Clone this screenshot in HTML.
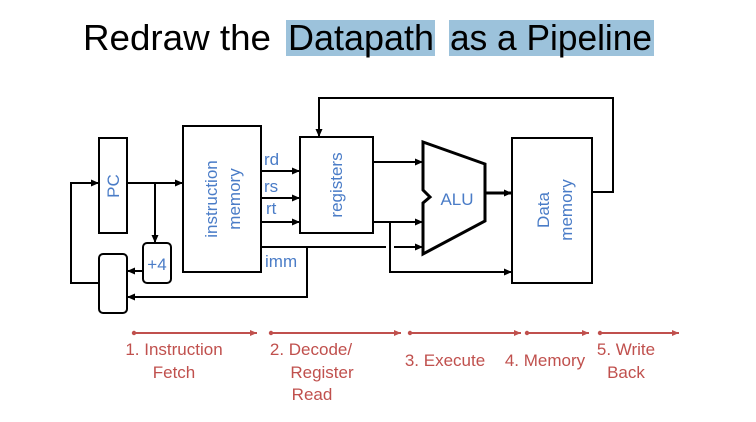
<!DOCTYPE html>
<html><head><meta charset="utf-8"><style>
html,body{margin:0;padding:0;background:#fff;}
svg{display:block;font-family:"Liberation Sans",sans-serif;}
</style></head><body>
<svg width="756" height="422" viewBox="0 0 756 422" xmlns="http://www.w3.org/2000/svg">
<defs>
<marker id="a" markerWidth="8" markerHeight="8" refX="7" refY="4" orient="auto" markerUnits="userSpaceOnUse"><path d="M0,0.5 L8,4 L0,7.5z" fill="#000"/></marker>
<marker id="r" markerWidth="8" markerHeight="8" refX="7" refY="4" orient="auto" markerUnits="userSpaceOnUse"><path d="M0,1 L7,4 L0,7z" fill="#c0504d"/></marker>
<marker id="rs" markerWidth="6" markerHeight="6" refX="3" refY="3" markerUnits="userSpaceOnUse"><circle cx="3" cy="3" r="2.2" fill="#c0504d"/></marker>
</defs>
<!-- title -->
<rect x="286" y="20" width="149" height="36" fill="#9cc2db"/>
<rect x="449" y="20" width="205" height="36" fill="#9cc2db"/>
<text x="83" y="50" font-size="36" textLength="188" lengthAdjust="spacingAndGlyphs">Redraw the</text>
<text x="288" y="50" font-size="36" textLength="146" lengthAdjust="spacingAndGlyphs">Datapath</text>
<text x="450" y="50" font-size="36" textLength="202" lengthAdjust="spacingAndGlyphs">as a Pipeline</text>

<g fill="none" stroke="#000" stroke-width="2">
<rect x="99" y="138" width="28" height="95"/>
<rect x="183" y="126" width="78" height="146"/>
<rect x="300" y="137" width="73" height="96"/>
<rect x="143" y="243" width="28" height="40" rx="4"/>
<rect x="99" y="254" width="28" height="59" rx="4"/>
<rect x="512" y="138" width="80" height="145"/>
<polygon points="423,142 485,164 485,221 423,254 423,203 430,197 423,190" stroke-width="3"/>
</g>
<g fill="none" stroke="#000" stroke-width="2">
<path d="M99,283 H71 V183 H98" marker-end="url(#a)"/>
<path d="M127,183 H182" marker-end="url(#a)"/>
<path d="M155,183 V242" marker-end="url(#a)"/>
<path d="M143,271 H128" marker-end="url(#a)"/>
<path d="M261,171 H299" marker-end="url(#a)"/>
<path d="M261,198 H299" marker-end="url(#a)"/>
<path d="M261,222 H299" marker-end="url(#a)"/>
<path d="M261,247 H386 M394,247 H422" marker-end="url(#a)"/>
<path d="M307,247 V297 H128" marker-end="url(#a)"/>
<path d="M592,192 H613 V98 H319 V136" marker-end="url(#a)"/>
<path d="M373,162 H422" marker-end="url(#a)"/>
<path d="M373,222 H422" marker-end="url(#a)"/>
<path d="M390,222 V272 H511" marker-end="url(#a)"/>
<path d="M485,193 H511" stroke-width="3" marker-end="url(#a)"/>
</g>
<g fill="#4a7cc7" font-size="17">
<text transform="translate(119,186) rotate(-90)" text-anchor="middle">PC</text>
<text transform="translate(217,199) rotate(-90)" text-anchor="middle">instruction</text>
<text transform="translate(240,199) rotate(-90)" text-anchor="middle">memory</text>
<text transform="translate(342,185) rotate(-90)" text-anchor="middle">registers</text>
<text transform="translate(549,210) rotate(-90)" text-anchor="middle">Data</text>
<text transform="translate(572,210) rotate(-90)" text-anchor="middle">memory</text>
<text x="457" y="205" text-anchor="middle">ALU</text>
<text x="157" y="270" text-anchor="middle">+4</text>
<text x="264" y="165">rd</text>
<text x="264" y="192">rs</text>
<text x="266" y="214">rt</text>
<text x="265" y="267">imm</text>
</g>
<g stroke="#c0504d" stroke-width="2" fill="none">
<path d="M134,333 H257" marker-start="url(#rs)" marker-end="url(#r)"/>
<path d="M271,333 H401" marker-start="url(#rs)" marker-end="url(#r)"/>
<path d="M410,333 H521" marker-start="url(#rs)" marker-end="url(#r)"/>
<path d="M527,333 H589" marker-start="url(#rs)" marker-end="url(#r)"/>
<path d="M600,333 H679" marker-start="url(#rs)" marker-end="url(#r)"/>
</g>
<g fill="#c0504d" font-size="17" text-anchor="middle">
<text x="174" y="355">1. Instruction</text>
<text x="174" y="378">Fetch</text>
<text x="311" y="355">2. Decode/</text>
<text x="322" y="378">Register</text>
<text x="312" y="400">Read</text>
<text x="445" y="366">3. Execute</text>
<text x="545" y="366">4. Memory</text>
<text x="626" y="355">5. Write</text>
<text x="626" y="378">Back</text>
</g>
</svg>
</body></html>
